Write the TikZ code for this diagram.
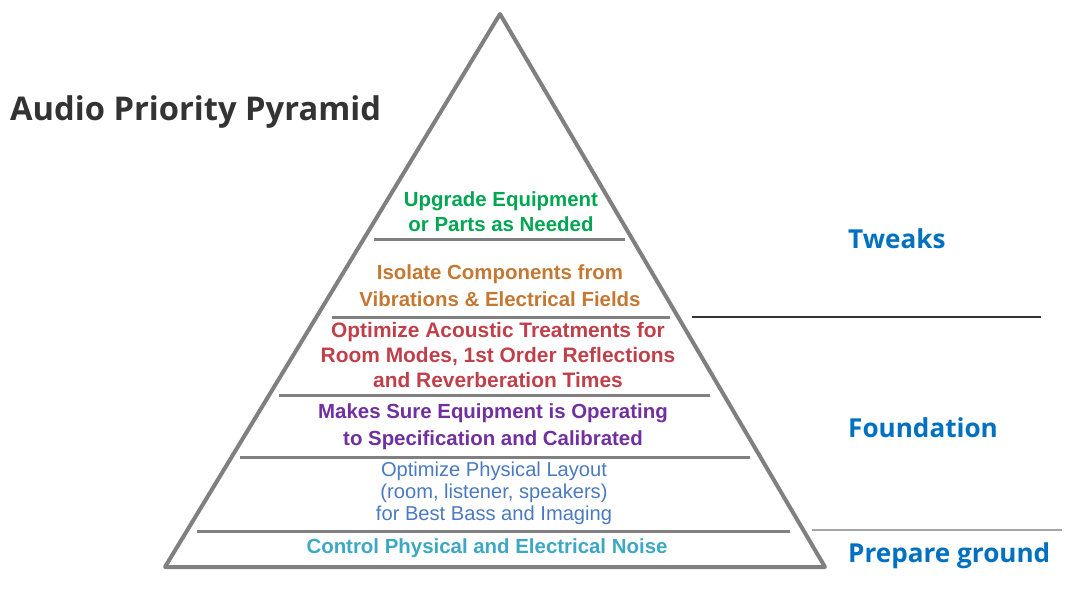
\documentclass[tikz,border=0pt]{standalone}
\usepackage{fontspec}
\setmainfont{Liberation Sans}
\newfontfamily\titlefont{Open Sans}
\definecolor{cgreen}{HTML}{00A651}
\definecolor{corange}{HTML}{C47832}
\definecolor{cred}{HTML}{C0404A}
\definecolor{cpurple}{HTML}{7030A0}
\definecolor{cblue}{HTML}{4A7AC0}
\definecolor{cteal}{HTML}{3CA8C4}
\definecolor{clabel}{HTML}{0070C0}
\definecolor{ctitle}{HTML}{333333}
\definecolor{cedge}{HTML}{808080}
\begin{document}
\begin{tikzpicture}[x=1bp,y=-1bp,
  tier/.style={font=\fontsize{20.5}{25}\selectfont\bfseries, align=center, inner sep=0pt},
  side/.style={font=\titlefont\fontsize{26.2}{30}\selectfont\bfseries, text=clabel, anchor=west, inner sep=0pt},
  sep/.style={draw=cedge, line width=3bp},
  edge/.style={draw=cedge, line width=4bp, line join=round}]
\useasboundingbox[fill=white] (0,0) rectangle (1080,599);
% pyramid outline
\coordinate (apex) at (500,14);
\coordinate (bl) at (165,567);
\coordinate (br) at (825,567);
\draw[edge] (bl) -- (apex) -- (br) -- cycle;
% separators
\coordinate (s1a) at (374,240); \coordinate (s1b) at (625,240);
\coordinate (s2a) at (332,317); \coordinate (s2b) at (670,317);
\coordinate (s3a) at (279,395); \coordinate (s3b) at (710,395);
\coordinate (s4a) at (240,457); \coordinate (s4b) at (750,457);
\coordinate (s5a) at (197,531); \coordinate (s5b) at (790,531);
\draw[sep] (s1a) -- (s1b);
\draw[sep] (s2a) -- (s2b);
\draw[sep] (s3a) -- (s3b);
\draw[sep] (s4a) -- (s4b);
\draw[sep] (s5a) -- (s5b);
% right divider lines
\coordinate (r1a) at (692,317); \coordinate (r1b) at (1041,317);
\coordinate (r2a) at (812,530); \coordinate (r2b) at (1062,530);
\draw[draw=ctitle, line width=2bp] (r1a) -- (r1b);
\draw[draw=cedge!70, line width=2bp] (r2a) -- (r2b);
% title
\node[font=\titlefont\fontsize{32.8}{36}\selectfont\bfseries, text=ctitle, anchor=west, inner sep=0pt] (title) at (10,112) {Audio Priority Pyramid};
% tiers
\node[tier, text=cgreen] (t1) at (501,212) {Upgrade Equipment\\or Parts as Needed};
\node[tier, text=corange, font=\fontsize{20.5}{27}\selectfont\bfseries] (t2) at (500,286) {Isolate Components from\\Vibrations \& Electrical Fields};
\node[tier, text=cred, font=\fontsize{21}{25}\selectfont\bfseries] (t3) at (498,355) {Optimize Acoustic Treatments for\\Room Modes, 1st Order Reflections\\and Reverberation Times};
\node[tier, text=cpurple, font=\fontsize{20.5}{27}\selectfont\bfseries] (t4) at (493,427) {Makes Sure Equipment is Operating\\to Specification and Calibrated};
\node[tier, text=cblue, font=\fontsize{20.2}{22}\selectfont] (t5) at (494,493) {Optimize Physical Layout\\(room, listener, speakers)\\for Best Bass and Imaging};
\node[tier, text=cteal] (t6) at (487,548) {Control Physical and Electrical Noise};
% side labels
\node[side] (tw) at (848,239) {Tweaks};
\node[side] (fd) at (848,428) {Foundation};
\node[side] (pg) at (848,556) {Prepare ground};
\end{tikzpicture}
\end{document}
